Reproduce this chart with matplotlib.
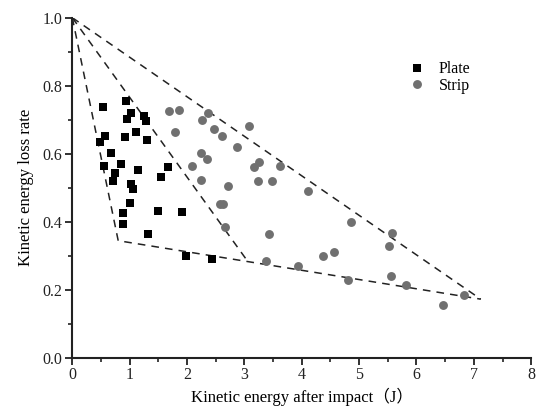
import matplotlib
matplotlib.use("Agg")
import matplotlib.pyplot as plt
from matplotlib.ticker import MultipleLocator

# Plate specimens: kinetic energy after impact (J) and energy loss rate
plate_x = [0.54, 0.93, 1.02, 0.96, 1.25, 1.28, 0.57, 0.48, 0.92, 1.11,
           1.31, 0.67, 0.55, 0.85, 1.15, 0.75, 0.71, 1.66, 1.55, 1.03,
           1.06, 1.01, 0.89, 1.49, 1.92, 0.89, 1.32, 1.98, 2.43]
plate_y = [0.736, 0.756, 0.720, 0.703, 0.711, 0.696, 0.653, 0.635, 0.648, 0.664,
           0.640, 0.603, 0.564, 0.571, 0.553, 0.543, 0.520, 0.561, 0.531, 0.510,
           0.496, 0.455, 0.424, 0.431, 0.427, 0.393, 0.365, 0.299, 0.289]

# Strip specimens
strip_x = [1.68, 1.86, 2.36, 2.26, 2.47, 2.61, 2.87, 1.79, 2.24, 2.34,
           2.08, 2.24, 2.72, 2.57, 2.63, 2.67, 3.08, 3.17, 3.25, 3.62,
           3.24, 3.48, 4.10, 3.43, 4.85, 5.58, 5.52, 3.37, 3.93, 4.37,
           4.56, 4.80, 5.55, 5.81, 6.82, 6.46]
strip_y = [0.726, 0.729, 0.719, 0.699, 0.672, 0.653, 0.621, 0.664, 0.601, 0.583,
           0.564, 0.522, 0.506, 0.452, 0.452, 0.385, 0.681, 0.562, 0.575, 0.565,
           0.520, 0.520, 0.490, 0.363, 0.398, 0.366, 0.329, 0.284, 0.270, 0.300,
           0.310, 0.229, 0.241, 0.213, 0.184, 0.155]

# Envelope outlines (dashed)
outer_x = [0.0, 0.80, 7.12]
outer_y = [1.0, 0.344, 0.172]
upper_x = [0.0, 7.12]
upper_y = [1.0, 0.172]
middle_x = [0.0, 3.05]
middle_y = [1.0, 0.285]

x_ticks = [0, 1, 2, 3, 4, 5, 6, 7, 8]
y_ticks = [0.0, 0.2, 0.4, 0.6, 0.8, 1.0]
y_tick_labels = ["0.0", "0.2", "0.4", "0.6", "0.8", "1.0"]

plt.rcParams["font.family"] = ["Liberation Serif", "Noto Sans CJK SC"]

fig = plt.figure(figsize=(5.45, 4.12), dpi=100)
ax = fig.add_axes([0.1327, 0.132, 0.842, 0.825])

dash = dict(color="#222222", lw=1.1, ls=(0, (5, 4)))
ax.plot(outer_x, outer_y, **dash)
ax.plot(upper_x, upper_y, **dash)
ax.plot(middle_x, middle_y, **dash)

ax.plot(plate_x, plate_y, "s", color="black", ms=5.8, mew=0,
        ls="none", label="Plate")
ax.plot(strip_x, strip_y, "o", color="#707070", ms=6.4, mew=0,
        ls="none", label="Strip")

ax.set_xlim(0, 8)
ax.set_ylim(0, 1.0)
ax.set_xticks(x_ticks)
ax.set_yticks(y_ticks)
ax.set_yticklabels(y_tick_labels)
ax.xaxis.set_minor_locator(MultipleLocator(0.5))
ax.yaxis.set_minor_locator(MultipleLocator(0.1))

for side in ("top", "right"):
    ax.spines[side].set_visible(False)
for side in ("left", "bottom"):
    ax.spines[side].set_linewidth(1.5)
    ax.spines[side].set_color("#222222")

ax.tick_params(which="major", direction="out", length=5, width=1.3,
               labelsize=11.5, colors="#222222", pad=2)
ax.tick_params(which="minor", direction="out", length=3, width=1.2,
               colors="#222222")

ax.set_xlabel("Kinetic energy after impact（J）", fontsize=12, labelpad=3)
ax.set_ylabel("Kinetic energy loss rate", fontsize=12, labelpad=6)

ax.legend(loc="upper left", bbox_to_anchor=(0.717, 0.89), frameon=False,
          fontsize=11.5, handletextpad=0.75, labelspacing=0.02,
          handlelength=1.2, borderaxespad=0)

fig.savefig("out.png", dpi=100)
